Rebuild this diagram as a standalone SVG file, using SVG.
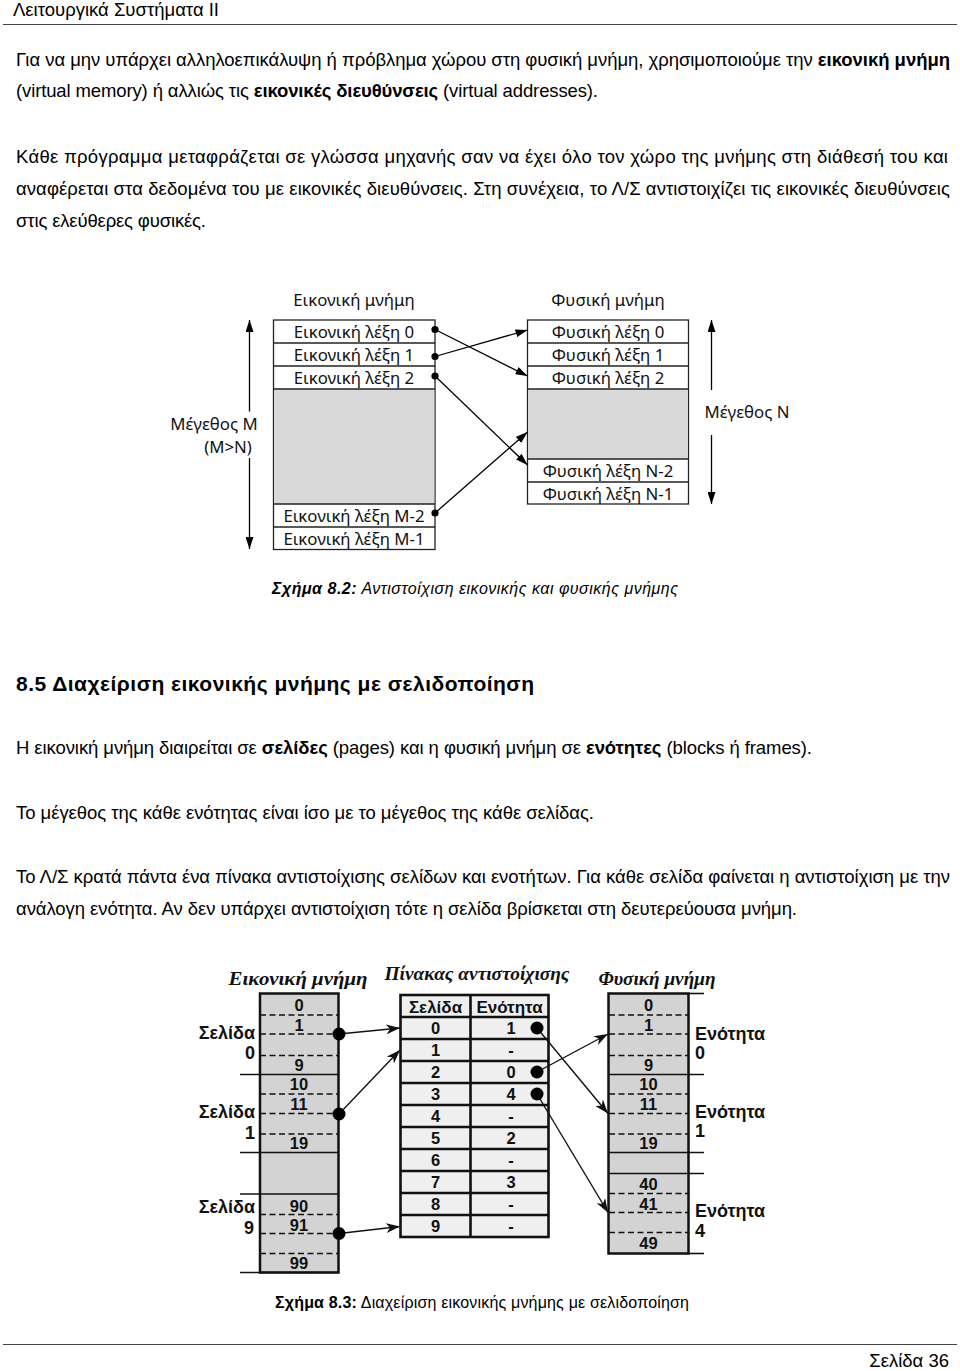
<svg xmlns="http://www.w3.org/2000/svg" width="960" height="1371" viewBox="0 0 960 1371">
<style>
.body{font-family:"Liberation Sans",Arial,sans-serif;font-size:18.5px;fill:#000}
.b{font-weight:bold}
.cal{font-family:"Noto Sans","Open Sans",sans-serif;font-size:16.8px;fill:#111}
.mid{text-anchor:middle}
.end{text-anchor:end}
.box{fill:#fff;stroke:#222;stroke-width:1.3}
.gray{fill:#d9d9d9;stroke:none}
.sep{stroke:#222;stroke-width:1.3}
.conn{stroke:#000;stroke-width:1.3;fill:none}
.dot{fill:#000}
.d2t{font-family:"Liberation Sans",Arial,sans-serif;font-weight:bold;font-size:18px;fill:#111}
.th{font-family:"Liberation Sans",Arial,sans-serif;font-weight:bold;font-size:17px;fill:#111;text-anchor:middle}
.num{font-family:"Liberation Sans",Arial,sans-serif;font-weight:bold;font-size:16.5px;fill:#111;text-anchor:middle}
.ttl{font-family:"Liberation Serif","Times New Roman",serif;font-weight:bold;font-style:italic;font-size:19px;fill:#111;text-anchor:middle}
.col{fill:#d3d3d3;stroke:#111;stroke-width:2.5}
.solid{stroke:#111;stroke-width:1.6}
.dash{stroke:#111;stroke-width:1.6;stroke-dasharray:6 3.5}
.tcell{fill:#efefef;stroke:#111;stroke-width:2.6}
.tline{stroke:#111;stroke-width:2.6}
.arr2{stroke:#111;stroke-width:1.4;fill:none}
.cap{font-family:"Liberation Sans",Arial,sans-serif;font-size:16px;fill:#000}
</style>
<defs>
<marker id="ah1" viewBox="0 0 12 8" refX="12" refY="4" markerWidth="12" markerHeight="8" orient="auto" markerUnits="userSpaceOnUse"><path d="M0,0 L12,4 L0,8 z" fill="#000"/></marker>
<marker id="ah2" viewBox="0 0 14 10" refX="14" refY="5" markerWidth="14" markerHeight="10" orient="auto" markerUnits="userSpaceOnUse"><path d="M0,0 L14,5 L0,10 L4,5 z" fill="#111"/></marker>
</defs>
<rect width="960" height="1371" fill="#fff"/>

<g id="page-header">
<text x="13" y="15.5" class="body" font-size="17.5" fill="#222" textLength="206" lengthAdjust="spacing">Λειτουργικά Συστήματα ΙΙ</text>
<line x1="3" y1="24.5" x2="957" y2="24.5" stroke="#444" stroke-width="1.2"/>
</g>

<g id="intro-text" class="body">
<text x="16" y="66" textLength="934" lengthAdjust="spacing">Για να μην υπάρχει αλληλοεπικάλυψη ή πρόβλημα χώρου στη φυσική μνήμη, χρησιμοποιούμε την <tspan class="b">εικονική μνήμη</tspan></text>
<text x="16" y="97" textLength="582" lengthAdjust="spacing">(virtual memory) ή αλλιώς τις <tspan class="b">εικονικές διευθύνσεις</tspan> (virtual addresses).</text>
<text x="16" y="163" textLength="932" lengthAdjust="spacing">Κάθε πρόγραμμα μεταφράζεται σε γλώσσα μηχανής σαν να έχει όλο τον χώρο της μνήμης στη διάθεσή του και</text>
<text x="16" y="195" textLength="934" lengthAdjust="spacing">αναφέρεται στα δεδομένα του με εικονικές διευθύνσεις. Στη συνέχεια, το Λ/Σ αντιστοιχίζει τις εικονικές διευθύνσεις</text>
<text x="16" y="227" textLength="190" lengthAdjust="spacing">στις ελεύθερες φυσικές.</text>
</g>

<!-- Figure 8.2 -->
<g id="virtual-memory-82">
<text x="354" y="306" class="cal mid">Εικονική μνήμη</text>
<rect x="273.5" y="320" width="161.5" height="229.5" class="box"/>
<rect x="274.2" y="389" width="160.1" height="115" class="gray"/>
<line x1="273.5" y1="343" x2="435" y2="343" class="sep"/>
<line x1="273.5" y1="366" x2="435" y2="366" class="sep"/>
<line x1="273.5" y1="389" x2="435" y2="389" class="sep"/>
<line x1="273.5" y1="504" x2="435" y2="504" class="sep"/>
<line x1="273.5" y1="527" x2="435" y2="527" class="sep"/>
<text x="354" y="337.5" class="cal mid">Εικονική λέξη 0</text>
<text x="354" y="360.5" class="cal mid">Εικονική λέξη 1</text>
<text x="354" y="383.5" class="cal mid">Εικονική λέξη 2</text>
<text x="354" y="521.5" class="cal mid">Εικονική λέξη M-2</text>
<text x="354" y="544.5" class="cal mid">Εικονική λέξη M-1</text>
</g>
<g id="physical-memory-82">
<text x="608" y="306" class="cal mid">Φυσική μνήμη</text>
<rect x="527.5" y="320" width="161" height="184" class="box"/>
<rect x="528.2" y="389" width="159.6" height="70" class="gray"/>
<line x1="527.5" y1="343" x2="688.5" y2="343" class="sep"/>
<line x1="527.5" y1="366" x2="688.5" y2="366" class="sep"/>
<line x1="527.5" y1="389" x2="688.5" y2="389" class="sep"/>
<line x1="527.5" y1="459" x2="688.5" y2="459" class="sep"/>
<line x1="527.5" y1="482" x2="688.5" y2="482" class="sep"/>
<text x="608" y="337.5" class="cal mid">Φυσική λέξη 0</text>
<text x="608" y="360.5" class="cal mid">Φυσική λέξη 1</text>
<text x="608" y="383.5" class="cal mid">Φυσική λέξη 2</text>
<text x="608" y="476.5" class="cal mid">Φυσική λέξη N-2</text>
<text x="608" y="499.5" class="cal mid">Φυσική λέξη N-1</text>
</g>
<g id="size-m">
<line x1="249.5" y1="411.5" x2="249.5" y2="320" class="conn" marker-end="url(#ah1)"/>
<line x1="249.5" y1="458" x2="249.5" y2="549" class="conn" marker-end="url(#ah1)"/>
<text x="214" y="430" class="cal mid">Μέγεθος M</text>
<text x="228" y="453" class="cal mid">(M&gt;N)</text>
</g>
<g id="size-n">
<line x1="711.5" y1="390" x2="711.5" y2="320" class="conn" marker-end="url(#ah1)"/>
<line x1="711.5" y1="435" x2="711.5" y2="504" class="conn" marker-end="url(#ah1)"/>
<text x="747" y="418" class="cal mid">Μέγεθος N</text>
</g>
<g id="connectors-82">
<line x1="435" y1="329.5" x2="527.5" y2="376" class="conn" marker-end="url(#ah1)"/>
<line x1="435" y1="356.5" x2="527.5" y2="330" class="conn" marker-end="url(#ah1)"/>
<line x1="435" y1="376" x2="527.5" y2="465" class="conn" marker-end="url(#ah1)"/>
<line x1="435" y1="513" x2="527.5" y2="432" class="conn" marker-end="url(#ah1)"/>
<circle cx="435" cy="329.5" r="3.6" class="dot"/>
<circle cx="435" cy="356.5" r="3.6" class="dot"/>
<circle cx="435" cy="376" r="3.6" class="dot"/>
<circle cx="435" cy="513" r="3.6" class="dot"/>
</g>
<text id="caption-82" x="272" y="594" class="cap" font-style="italic" textLength="406" lengthAdjust="spacing"><tspan class="b">Σχήμα 8.2:</tspan> Αντιστοίχιση εικονικής και φυσικής μνήμης</text>

<g id="section-85" class="body">
<text x="16" y="691" class="b" font-size="21" textLength="518" lengthAdjust="spacing">8.5 Διαχείριση εικονικής μνήμης με σελιδοποίηση</text>
<text x="16" y="754" textLength="796" lengthAdjust="spacing">Η εικονική μνήμη διαιρείται σε <tspan class="b">σελίδες</tspan> (pages) και η φυσική μνήμη σε <tspan class="b">ενότητες</tspan> (blocks ή frames).</text>
<text x="16" y="819" textLength="578" lengthAdjust="spacing">Το μέγεθος της κάθε ενότητας είναι ίσο με το μέγεθος της κάθε σελίδας.</text>
<text x="16" y="883" textLength="934" lengthAdjust="spacing">Το Λ/Σ κρατά πάντα ένα πίνακα αντιστοίχισης σελίδων και ενοτήτων. Για κάθε σελίδα φαίνεται η αντιστοίχιση με την</text>
<text x="16" y="915" textLength="781" lengthAdjust="spacing">ανάλογη ενότητα. Αν δεν υπάρχει αντιστοίχιση τότε η σελίδα βρίσκεται στη δευτερεύουσα μνήμη.</text>
</g>

<!-- Figure 8.3 -->
<g id="virtual-memory-83">
<text x="298" y="985" class="ttl" textLength="139" lengthAdjust="spacingAndGlyphs">Εικονική μνήμη</text>
<rect x="260" y="993.5" width="78.5" height="279" class="col"/>
<line x1="240" y1="1074.5" x2="338.5" y2="1074.5" class="solid"/>
<line x1="240" y1="1152.5" x2="338.5" y2="1152.5" class="solid"/>
<line x1="240" y1="1194" x2="338.5" y2="1194" class="solid"/>
<line x1="240" y1="1272.5" x2="338.5" y2="1272.5" class="solid"/>
<line x1="260" y1="1015" x2="338" y2="1015" class="dash"/>
<line x1="260" y1="1034" x2="338" y2="1034" class="dash"/>
<line x1="260" y1="1055.5" x2="338" y2="1055.5" class="dash"/>
<line x1="260" y1="1094" x2="338" y2="1094" class="dash"/>
<line x1="260" y1="1113.5" x2="338" y2="1113.5" class="dash"/>
<line x1="260" y1="1134" x2="338" y2="1134" class="dash"/>
<line x1="260" y1="1214.5" x2="338" y2="1214.5" class="dash"/>
<line x1="260" y1="1233.5" x2="338" y2="1233.5" class="dash"/>
<line x1="260" y1="1253.5" x2="338" y2="1253.5" class="dash"/>
<text x="299" y="1011" class="num">0</text>
<text x="299" y="1031" class="num">1</text>
<text x="299" y="1071" class="num">9</text>
<text x="299" y="1090" class="num">10</text>
<text x="299" y="1110" class="num">11</text>
<text x="299" y="1149" class="num">19</text>
<text x="299" y="1212" class="num">90</text>
<text x="299" y="1231" class="num">91</text>
<text x="299" y="1269" class="num">99</text>
<text x="255" y="1039" class="d2t end">Σελίδα</text>
<text x="250" y="1059" class="d2t mid">0</text>
<text x="255" y="1118" class="d2t end">Σελίδα</text>
<text x="250" y="1139" class="d2t mid">1</text>
<text x="255" y="1213" class="d2t end">Σελίδα</text>
<text x="249" y="1234" class="d2t mid">9</text>
</g>

<g id="page-table">
<text x="477" y="980" class="ttl" textLength="185" lengthAdjust="spacingAndGlyphs">Πίνακας αντιστοίχισης</text>
<rect x="400.5" y="995" width="148" height="242" class="tcell"/>
<line x1="470.5" y1="995" x2="470.5" y2="1237" class="tline"/>
<line x1="400.5" y1="1017" x2="548.5" y2="1017" class="tline"/>
<line x1="400.5" y1="1039" x2="548.5" y2="1039" class="tline"/>
<line x1="400.5" y1="1061" x2="548.5" y2="1061" class="tline"/>
<line x1="400.5" y1="1083" x2="548.5" y2="1083" class="tline"/>
<line x1="400.5" y1="1105" x2="548.5" y2="1105" class="tline"/>
<line x1="400.5" y1="1127" x2="548.5" y2="1127" class="tline"/>
<line x1="400.5" y1="1149" x2="548.5" y2="1149" class="tline"/>
<line x1="400.5" y1="1171" x2="548.5" y2="1171" class="tline"/>
<line x1="400.5" y1="1193" x2="548.5" y2="1193" class="tline"/>
<line x1="400.5" y1="1215" x2="548.5" y2="1215" class="tline"/>
<text x="435.5" y="1012.5" class="th">Σελίδα</text>
<text x="509.5" y="1012.5" class="th">Ενότητα</text>
<g class="num">
<text x="435.5" y="1034">0</text><text x="511" y="1034">1</text>
<text x="435.5" y="1056">1</text><text x="511" y="1056">-</text>
<text x="435.5" y="1078">2</text><text x="511" y="1078">0</text>
<text x="435.5" y="1100">3</text><text x="511" y="1100">4</text>
<text x="435.5" y="1122">4</text><text x="511" y="1122">-</text>
<text x="435.5" y="1144">5</text><text x="511" y="1144">2</text>
<text x="435.5" y="1166">6</text><text x="511" y="1166">-</text>
<text x="435.5" y="1188">7</text><text x="511" y="1188">3</text>
<text x="435.5" y="1210">8</text><text x="511" y="1210">-</text>
<text x="435.5" y="1232">9</text><text x="511" y="1232">-</text>
</g>
</g>

<g id="physical-memory-83">
<text x="657" y="985" class="ttl" textLength="117" lengthAdjust="spacingAndGlyphs">Φυσική μνήμη</text>
<rect x="608.5" y="993.5" width="80" height="260" class="col"/>
<line x1="688.5" y1="993.5" x2="704" y2="993.5" class="solid"/>
<line x1="608.5" y1="1074.5" x2="704" y2="1074.5" class="solid"/>
<line x1="608.5" y1="1152.5" x2="704" y2="1152.5" class="solid"/>
<line x1="608.5" y1="1173.5" x2="704" y2="1173.5" class="solid"/>
<line x1="688.5" y1="1253.5" x2="704" y2="1253.5" class="solid"/>
<line x1="609" y1="1015" x2="688" y2="1015" class="dash"/>
<line x1="609" y1="1034" x2="688" y2="1034" class="dash"/>
<line x1="609" y1="1055.5" x2="688" y2="1055.5" class="dash"/>
<line x1="609" y1="1094" x2="688" y2="1094" class="dash"/>
<line x1="609" y1="1113.5" x2="688" y2="1113.5" class="dash"/>
<line x1="609" y1="1134" x2="688" y2="1134" class="dash"/>
<line x1="609" y1="1193.5" x2="688" y2="1193.5" class="dash"/>
<line x1="609" y1="1212.5" x2="688" y2="1212.5" class="dash"/>
<line x1="609" y1="1232.5" x2="688" y2="1232.5" class="dash"/>
<text x="648.5" y="1011" class="num">0</text>
<text x="648.5" y="1031" class="num">1</text>
<text x="648.5" y="1071" class="num">9</text>
<text x="648.5" y="1090" class="num">10</text>
<text x="648.5" y="1110" class="num">11</text>
<text x="648.5" y="1149" class="num">19</text>
<text x="648.5" y="1190" class="num">40</text>
<text x="648.5" y="1210" class="num">41</text>
<text x="648.5" y="1249" class="num">49</text>
<text x="695" y="1040" class="d2t">Ενότητα</text>
<text x="695" y="1059" class="d2t">0</text>
<text x="695" y="1118" class="d2t">Ενότητα</text>
<text x="695" y="1137" class="d2t">1</text>
<text x="695" y="1217" class="d2t">Ενότητα</text>
<text x="695" y="1237" class="d2t">4</text>
</g>

<g id="connectors-83">
<line x1="339" y1="1034" x2="400" y2="1028" class="arr2" marker-end="url(#ah2)"/>
<line x1="339" y1="1114" x2="400" y2="1050" class="arr2" marker-end="url(#ah2)"/>
<line x1="339" y1="1233.5" x2="400" y2="1226.5" class="arr2" marker-end="url(#ah2)"/>
<line x1="537" y1="1028" x2="608" y2="1113.5" class="arr2" marker-end="url(#ah2)"/>
<line x1="537" y1="1072" x2="608" y2="1034" class="arr2" marker-end="url(#ah2)"/>
<line x1="537" y1="1094" x2="608" y2="1212.5" class="arr2" marker-end="url(#ah2)"/>
<circle cx="339" cy="1034" r="6.5" class="dot"/>
<circle cx="339" cy="1114" r="6.5" class="dot"/>
<circle cx="339" cy="1233.5" r="6.5" class="dot"/>
<circle cx="537" cy="1028" r="6.5" class="dot"/>
<circle cx="537" cy="1072" r="6.5" class="dot"/>
<circle cx="537" cy="1094" r="6.5" class="dot"/>
</g>
<text id="caption-83" x="275" y="1308" class="cap" textLength="414" lengthAdjust="spacing"><tspan class="b">Σχήμα 8.3:</tspan> Διαχείριση εικονικής μνήμης με σελιδοποίηση</text>

<g id="page-footer">
<line x1="3" y1="1344.5" x2="957" y2="1344.5" stroke="#444" stroke-width="1.2"/>
<text x="949" y="1367" class="body end" fill="#222">Σελίδα 36</text>
</g>
</svg>
